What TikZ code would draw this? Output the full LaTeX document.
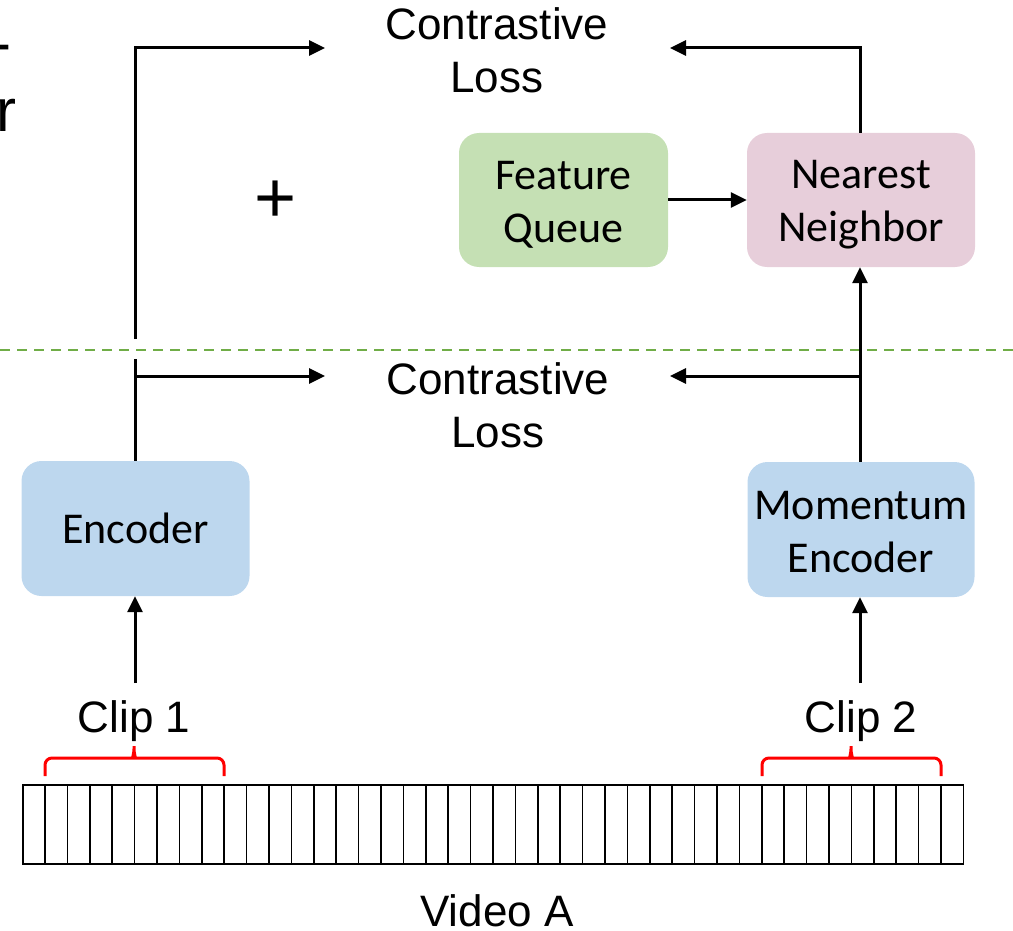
\documentclass[tikz,border=0pt]{standalone}
\usepackage{fontspec}
\setmainfont{Liberation Sans}
\newfontfamily\calib{Carlito}
\usetikzlibrary{arrows.meta}
\definecolor{boxblue}{HTML}{BDD7EE}
\definecolor{boxgreen}{HTML}{C5E0B4}
\definecolor{boxpink}{HTML}{E7CEDA}
\definecolor{dgreen}{HTML}{70AD47}
\newcommand{\firstline}[1]{\rule{0pt}{#1}}
\begin{document}
\begin{tikzpicture}[x=1pt,y=-1pt,
  box/.style={rounded corners=20pt, inner sep=0pt, align=center, draw=none,
    font=\calib\fontsize{44}{53}\selectfont},
  lbl/.style={inner sep=0pt, align=center, font=\fontsize{44}{53}\selectfont},
  arr/.style={line width=3pt, -{Triangle[length=16pt,width=15pt]}},
  ln/.style={line width=3pt},
  brace/.style={draw=red, line width=3pt, rounded corners=7pt},
  frame/.style={line width=1.6pt}]
\useasboundingbox (0,0) rectangle (1013,931);

% partly hidden text at the left edge
\node[anchor=base west, inner sep=0pt, font=\fontsize{60}{69}\selectfont] (cuthy) at (-8.6,64) {-};
\node[anchor=base west, inner sep=0pt, font=\fontsize{60}{69}\selectfont] (cutr) at (-4,132) {r};

% boxes
\node[box, fill=boxblue, minimum width=228pt, minimum height=135pt] (enc) at (135.5,528.5) {Encoder};
\node[box, fill=boxblue, minimum width=227pt, minimum height=135pt] (menc) at (861,529.5) {\firstline{34pt}Momentum\\Encoder};
\node[box, fill=boxgreen, minimum width=209pt, minimum height=134pt] (fq) at (563.5,200) {\firstline{38pt}Feature\\Queue};
\node[box, fill=boxpink, minimum width=228pt, minimum height=134pt] (nn) at (861,200) {\firstline{38pt}Nearest\\Neighbor};

% labels
\node[lbl] (cltop) at (497,50) {Contrastive\\Loss};
\node[lbl] (clbot) at (498,405) {Contrastive\\Loss};
\node[inner sep=0pt, font=\fontsize{72}{80}\selectfont] (plus) at (276,202) {+};
\node[lbl, anchor=base] (clipone) at (134,732) {Clip 1};
\node[lbl, anchor=base] (cliptwo) at (861,732) {Clip 2};
\node[lbl, anchor=base] (video) at (497,926) {Video A};

% dashed separator
\draw[draw=dgreen, line width=2pt, dash pattern=on 10pt off 7pt] (0,350) -- (1013,350);

% coordinates
\coordinate (c1top) at (135,683);
\coordinate (c2top) at (860,683);
\coordinate (gapb) at (135,359);
\coordinate (gapt) at (135,339);
\coordinate (jl) at (135,376);
\coordinate (tl) at (135,48);
\coordinate (inl1) at (325,48);
\coordinate (inl2) at (325,376);
\coordinate (jr) at (860,376);
\coordinate (tr) at (860,48);
\coordinate (inr1) at (670,48);
\coordinate (inr2) at (670,376);

% connectors
\draw[arr] (c1top) -- (enc.south -| c1top);
\draw[arr] (c2top) -- (menc.south -| c2top);
\draw[ln] (enc.north -| jl) -- (gapb);
\draw[arr] (jl) -- (inl2);
\draw[arr] (gapt) -- (tl) -- (inl1);
\draw[arr] (menc.north -| jr) -- (nn.south -| jr);
\draw[arr] (jr) -- (inr2);
\draw[arr] (nn.north -| tr) -- (tr) -- (inr1);
\draw[arr] (fq.east) -- (nn.west);

% braces
\draw[brace] (45,776) -- (45,758) -- (126,758) .. controls (132,758) and (134,754) .. (134,742) .. controls (134,754) and (136,758) .. (142,758) -- (224,758) -- (224,776);
\draw[brace] (762,776) -- (762,758) -- (843,758) .. controls (849,758) and (851,754) .. (851,742) .. controls (851,754) and (853,758) .. (859,758) -- (941,758) -- (941,776);

% frames of the video
\draw[frame] (22.7,785) rectangle (963.3,864);
\foreach \i in {1,...,41} {
  \draw[frame] ({22.7+\i*22.395},785) -- ({22.7+\i*22.395},864);
}
\end{tikzpicture}
\end{document}
